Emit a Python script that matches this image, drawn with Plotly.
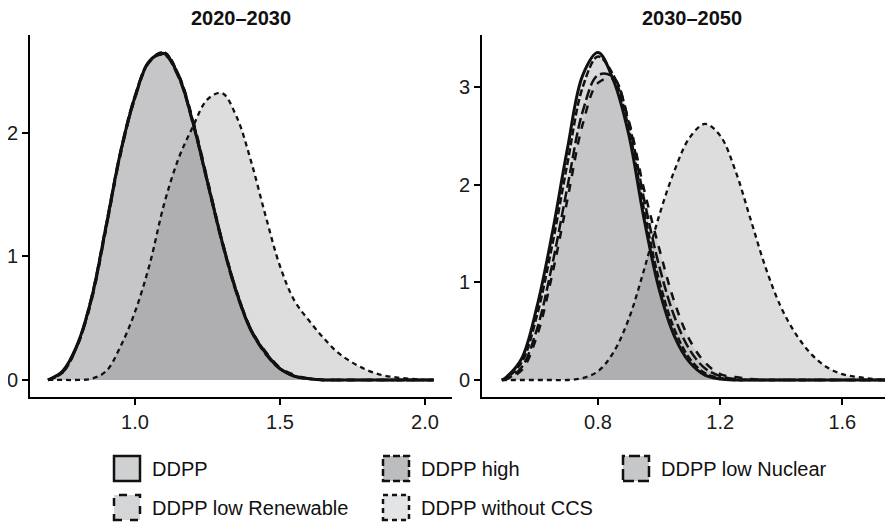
import plotly.graph_objects as go

# ---------------- data ----------------
panels = ["2020–2030", "2030–2050"]
series = ["DDPP", "DDPP high", "DDPP low Nuclear", "DDPP low Renewable", "DDPP without CCS"]

x_2020 = [0.70, 0.75, 0.80, 0.85, 0.90, 0.95, 1.00, 1.05, 1.10, 1.15, 1.20, 1.25, 1.30, 1.35,
          1.40, 1.45, 1.50, 1.55, 1.60, 1.65, 1.70, 1.75, 1.80, 1.85, 1.90, 1.95, 2.00, 2.03]
ddpp_2020 = [0, 0.07, 0.28, 0.66, 1.24, 1.84, 2.29, 2.58, 2.64, 2.46, 2.08, 1.60, 1.12, 0.71,
             0.40, 0.22, 0.09, 0.03, 0.01, 0, 0, 0, 0, 0, 0, 0, 0, 0]
high_2020 = [0, 0.06, 0.27, 0.65, 1.22, 1.83, 2.28, 2.58, 2.65, 2.47, 2.09, 1.61, 1.13, 0.72,
             0.41, 0.22, 0.09, 0.03, 0.01, 0, 0, 0, 0, 0, 0, 0, 0, 0]
nuclear_2020 = [0, 0.07, 0.28, 0.67, 1.25, 1.85, 2.30, 2.58, 2.63, 2.45, 2.07, 1.59, 1.11, 0.70,
                0.40, 0.21, 0.09, 0.03, 0.01, 0, 0, 0, 0, 0, 0, 0, 0, 0]
renew_2020 = [0, 0.06, 0.27, 0.64, 1.22, 1.82, 2.28, 2.57, 2.64, 2.47, 2.10, 1.62, 1.13, 0.72,
              0.41, 0.23, 0.10, 0.04, 0.01, 0, 0, 0, 0, 0, 0, 0, 0, 0]
noccs_2020 = [0, 0, 0, 0.01, 0.07, 0.27, 0.55, 0.93, 1.42, 1.79, 2.05, 2.27, 2.32, 2.13,
              1.77, 1.33, 0.92, 0.64, 0.48, 0.34, 0.22, 0.14, 0.08, 0.04, 0.02, 0.01, 0, 0]

x_2050 = [0.485, 0.50, 0.55, 0.60, 0.65, 0.70, 0.75, 0.80, 0.85, 0.90, 0.95, 1.00, 1.05, 1.10,
          1.15, 1.20, 1.25, 1.30, 1.35, 1.40, 1.45, 1.50, 1.55, 1.60, 1.65, 1.70, 1.74]
ddpp_2050 = [0, 0.03, 0.22, 0.75, 1.50, 2.37, 3.12, 3.35, 3.07, 2.52, 1.66, 0.93, 0.45, 0.18,
             0.05, 0.01, 0, 0, 0, 0, 0, 0, 0, 0, 0, 0, 0]
high_2050 = [0, 0.02, 0.18, 0.66, 1.38, 2.22, 3.00, 3.31, 3.12, 2.58, 1.75, 1.02, 0.52, 0.22,
             0.07, 0.02, 0, 0, 0, 0, 0, 0, 0, 0, 0, 0, 0]
nuclear_2050 = [0, 0.01, 0.13, 0.52, 1.18, 1.98, 2.75, 3.12, 3.10, 2.64, 1.86, 1.17, 0.65, 0.31,
                0.12, 0.04, 0.01, 0, 0, 0, 0, 0, 0, 0, 0, 0, 0]
renew_2050 = [0, 0.01, 0.10, 0.45, 1.08, 1.85, 2.62, 3.04, 3.08, 2.66, 1.96, 1.35, 0.80, 0.41,
              0.18, 0.06, 0.03, 0.01, 0, 0, 0, 0, 0, 0, 0, 0, 0]
noccs_2050 = [0, 0, 0, 0, 0, 0, 0.02, 0.09, 0.28, 0.62, 1.12, 1.68, 2.14, 2.48,
              2.62, 2.50, 2.14, 1.64, 1.14, 0.74, 0.46, 0.26, 0.13, 0.06, 0.03, 0.01, 0]

x_ticks_2020 = [1.0, 1.5, 2.0]
x_ticks_2050 = [0.8, 1.2, 1.6]
y_ticks_2020 = [0, 1, 2]
y_ticks_2050 = [0, 1, 2, 3]

# ---------------- styles ----------------
W, H = 893, 527
OFF = 8  # the page body margin shifts the figure by 8px; positions below are screen pixels
FONT = "Liberation Sans, Arial, Helvetica, sans-serif"
dashes = {"DDPP": "solid", "DDPP high": "7px,3px", "DDPP low Nuclear": "11px,4px",
          "DDPP low Renewable": "8px,8px", "DDPP without CCS": "5px,4px"}
widths = {"DDPP": 3, "DDPP high": 2.5, "DDPP low Nuclear": 2.5,
          "DDPP low Renewable": 2.5, "DDPP without CCS": 2.3}
fills = {"DDPP": "rgba(160,162,166,0.2)", "DDPP high": "rgba(160,162,166,0.2)",
         "DDPP low Nuclear": "rgba(160,162,166,0.2)", "DDPP low Renewable": "rgba(160,162,166,0.2)",
         "DDPP without CCS": "rgba(85,86,90,0.2)"}
swatch = {"DDPP": "#cfd0d1", "DDPP high": "#bcbdbf", "DDPP low Nuclear": "#c6c7c9",
          "DDPP low Renewable": "#d4d5d6", "DDPP without CCS": "#e3e4e5"}

fig = go.Figure()
data_sets = [
    ("x", "y", x_2020, [ddpp_2020, high_2020, nuclear_2020, renew_2020, noccs_2020]),
    ("x2", "y2", x_2050, [ddpp_2050, high_2050, nuclear_2050, renew_2050, noccs_2050]),
]
for xa, ya, xs, ys_list in data_sets:
    # fills first
    for name, ys in zip(series, ys_list):
        fig.add_trace(go.Scatter(
            x=xs, y=ys, xaxis=xa, yaxis=ya, mode="lines", name=name, showlegend=False,
            fill="tozeroy", fillcolor=fills[name],
            line=dict(color="rgba(0,0,0,0)", width=0, shape="spline", smoothing=1.0),
            hoverinfo="skip"))
    # outlines on top
    for name, ys in zip(series, ys_list):
        fig.add_trace(go.Scatter(
            x=xs, y=ys, xaxis=xa, yaxis=ya, mode="lines", name=name, showlegend=False,
            line=dict(color="#111111", width=widths[name], dash=dashes[name],
                      shape="spline", smoothing=1.0),
            hoverinfo="skip"))

def px_x(p):
    return (p - OFF) / W

def px_y(p):
    return 1 - (p - OFF) / H

y_dom = [px_y(397), px_y(35)]
axis_common = dict(showline=True, linecolor="black", linewidth=2, ticks="outside",
                   ticklen=6, tickwidth=2, tickcolor="black", showgrid=False,
                   zeroline=False, tickfont=dict(family=FONT, size=20, color="#1a1a1a"))

fig.update_layout(
    width=W, height=H, margin=dict(l=0, r=0, t=0, b=0),
    plot_bgcolor="white", paper_bgcolor="white",
    xaxis=dict(domain=[px_x(30), px_x(452)], range=[0.638, 2.093], tickvals=x_ticks_2020,
               ticktext=["%.1f" % v for v in x_ticks_2020], anchor="y", **axis_common),
    yaxis=dict(domain=y_dom, range=[-0.138, 2.79], tickvals=y_ticks_2020, anchor="x",
               **axis_common),
    xaxis2=dict(domain=[px_x(482), px_x(893)], range=[0.42, 1.766], tickvals=x_ticks_2050,
                ticktext=["%.1f" % v for v in x_ticks_2050], anchor="y2", **axis_common),
    yaxis2=dict(domain=y_dom, range=[-0.174, 3.53], tickvals=y_ticks_2050, anchor="x2",
                **axis_common),
)

# panel titles
for txt, cx in zip(panels, [241, 692]):
    fig.add_annotation(x=px_x(cx), y=px_y(18), xref="paper", yref="paper", text="<b>%s</b>" % txt,
                       showarrow=False, font=dict(family=FONT, size=20, color="#111111"),
                       xanchor="center", yanchor="middle")

# custom legend (keys are boxes outlined in each line style)
leg_cols = [114, 383, 623]
leg_rows = [456, 495]
key_w, key_h = 26, 25
for i, name in enumerate(series):
    r, c = divmod(i, 3)
    x0 = leg_cols[c]
    y0 = leg_rows[r]
    fig.add_shape(type="rect", xref="paper", yref="paper",
                  x0=px_x(x0), x1=px_x(x0 + key_w), y0=px_y(y0 + key_h), y1=px_y(y0),
                  fillcolor=swatch[name],
                  line=dict(color="#111111", width=2.5, dash=dashes[name]))
    fig.add_annotation(x=px_x(x0 + 36), y=px_y(y0 + key_h / 2), xref="paper", yref="paper",
                       text=name, showarrow=False, xanchor="left", yanchor="middle",
                       font=dict(family=FONT, size=20, color="#111111"))

fig.write_html("out.html")
